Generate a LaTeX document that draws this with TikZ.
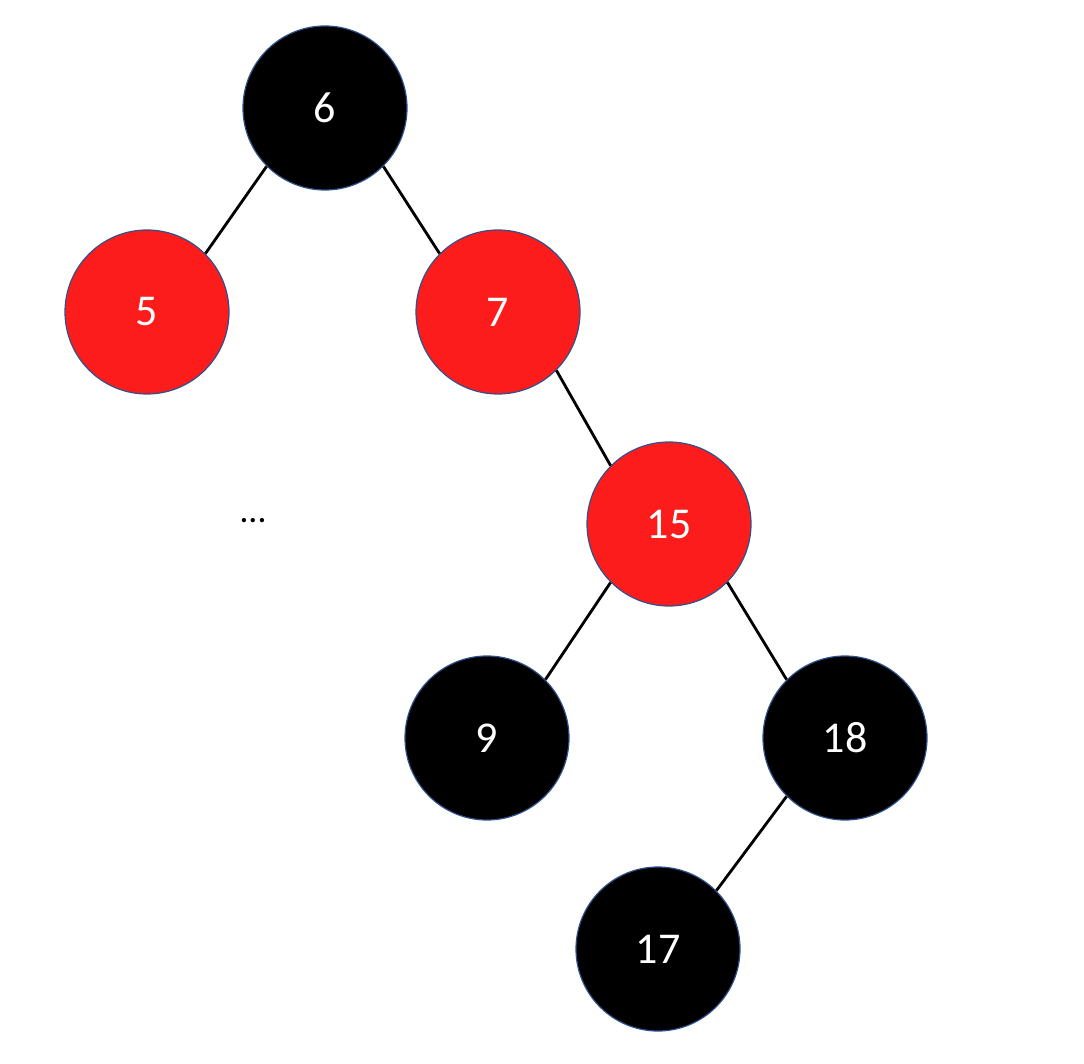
\documentclass[tikz,border=0pt]{standalone}
\usepackage{fontspec}
\setmainfont{Carlito}
\definecolor{rbred}{HTML}{FC1C1C}
\definecolor{rbborder}{HTML}{2F528F}
\begin{document}
\begin{tikzpicture}[x=1pt,y=-1pt,
  rbnode/.style={circle,draw=rbborder,line width=1.2pt,minimum size=164pt,inner sep=0pt,text=white,font=\fontsize{44}{50}\selectfont},
  blacknode/.style={rbnode,fill=black},
  rednode/.style={rbnode,fill=rbred},
  edge/.style={draw=black,line width=2.8pt}]
\useasboundingbox (0,0) rectangle (1084,1064);
\node[blacknode] (n6) at (325,108) {6};
\node[rednode] (n5) at (147,312) {5};
\node[rednode] (n7) at (498,312) {7};
\node[rednode] (n15) at (669,524) {15};
\node[blacknode] (n9) at (487,738) {9};
\node[blacknode] (n18) at (845,738) {18};
\node[blacknode] (n17) at (658,949) {17};
\node[font=\fontsize{36}{40}\selectfont,anchor=base,inner sep=0pt] (dots) at (253,522) {…};
\draw[edge] (n6.225) -- (n5.45);
\draw[edge] (n6.315) -- (n7.135);
\draw[edge] (n7.315) -- (n15.135);
\draw[edge] (n15.225) -- (n9.45);
\draw[edge] (n15.315) -- (n18.135);
\draw[edge] (n18.225) -- (n17.45);
\end{tikzpicture}
\end{document}
